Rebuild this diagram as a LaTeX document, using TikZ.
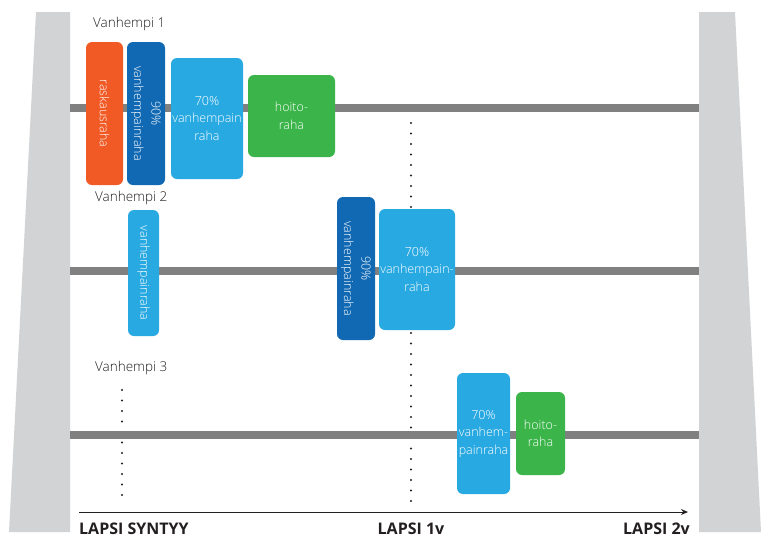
\documentclass[tikz,border=0pt]{standalone}
\usepackage{fontspec}
\setmainfont{Open Sans}
\newfontfamily\boxfont{Open Sans Light}
\usetikzlibrary{arrows.meta}
\definecolor{panelgray}{HTML}{D1D3D4}
\definecolor{bargray}{HTML}{808080}
\definecolor{korange}{HTML}{F15A24}
\definecolor{kdark}{HTML}{1269B3}
\definecolor{klight}{HTML}{29A9E1}
\definecolor{kgreen}{HTML}{3BB54A}
\definecolor{ktext}{HTML}{231F20}
\begin{document}
\begin{tikzpicture}[x=1pt,y=-1pt,
  bar/.style={draw=bargray, line width=8pt},
  dotline/.style={draw=ktext, line width=2.2pt, line cap=round, dash pattern=on 0pt off 10.5pt},
  box/.style={rounded corners=6pt, inner sep=0pt, text=white, align=center,
    font=\boxfont\fontsize{12.5}{17.5}\selectfont},
  vlabel/.style={anchor=west, text=ktext, inner sep=0pt, font=\boxfont\fontsize{13.5}{15}\selectfont},
  axlabel/.style={text=ktext, inner sep=0pt, font=\fontsize{16}{18}\selectfont\bfseries}]
\useasboundingbox (0,0) rectangle (766,542);
\fill[white] (0,0) rectangle (766,542);
% side panels
\fill[panelgray] (36,12) -- (70,12) -- (70,532) -- (9,532) -- cycle;
\fill[panelgray] (699,12) -- (735,12) -- (761,532) -- (699,532) -- cycle;
% dotted guides
\coordinate (d1a) at (411,123); \coordinate (d1b) at (411,502);
\coordinate (d2a) at (122,390); \coordinate (d2b) at (122,502);
\draw[dotline] (d1a) -- (d1b);
\draw[dotline] (d2a) -- (d2b);
% timelines
\coordinate (b1l) at (70,108); \coordinate (b1r) at (699,108);
\coordinate (b2l) at (70,271); \coordinate (b2r) at (699,271);
\coordinate (b3l) at (70,435); \coordinate (b3r) at (699,435);
\draw[bar] (b1l) -- (b1r);
\draw[bar] (b2l) -- (b2r);
\draw[bar] (b3l) -- (b3r);
% labels
\node[vlabel] (v1) at (93,24) {Vanhempi 1};
\node[vlabel] (v2) at (95,198) {Vanhempi 2};
\node[vlabel] (v3) at (95,368) {Vanhempi 3};
% Vanhempi 1
\node[box, fill=korange, rotate=-90, minimum width=143pt, minimum height=37pt] (r1) at (104.5,113.5) {raskausraha};
\node[box, fill=kdark, rotate=-90, minimum width=143pt, minimum height=38pt] (p1) at (146,113.5) {90\%\\vanhempainraha};
\node[box, fill=klight, minimum width=72pt, minimum height=121pt] (s1) at (207,118.5) {70\%\\vanhempain\\raha};
\node[box, fill=kgreen, minimum width=87pt, minimum height=82pt] (h1) at (291.5,116) {hoito-\\raha};
% Vanhempi 2
\node[box, fill=klight, rotate=-90, minimum width=126pt, minimum height=31pt] (p2a) at (143.5,273) {vanhempainraha};
\node[box, fill=kdark, rotate=-90, minimum width=143pt, minimum height=38pt] (p2) at (356,268.5) {90\%\\vanhempainraha};
\node[box, fill=klight, minimum width=76pt, minimum height=121pt] (s2) at (417,269.5) {70\%\\vanhempain-\\raha};
% Vanhempi 3
\node[box, fill=klight, minimum width=53pt, minimum height=121pt] (s3) at (483.5,433.5) {70\%\\vanhem-\\painraha};
\node[box, fill=kgreen, minimum width=49pt, minimum height=83pt] (h3) at (540.5,433.5) {hoito-\\raha};
% axis
\coordinate (ax1) at (79,512); \coordinate (ax2) at (688,512);
\draw[ktext, line width=1pt, -{Stealth[length=7pt,width=6pt]}] (ax1) -- (ax2);
\node[axlabel, anchor=west] (l0) at (79,529) {LAPSI SYNTYY};
\node[axlabel] (l1) at (411,529) {LAPSI 1v};
\node[axlabel, anchor=east] (l2) at (690,529) {LAPSI 2v};
\end{tikzpicture}
\end{document}
